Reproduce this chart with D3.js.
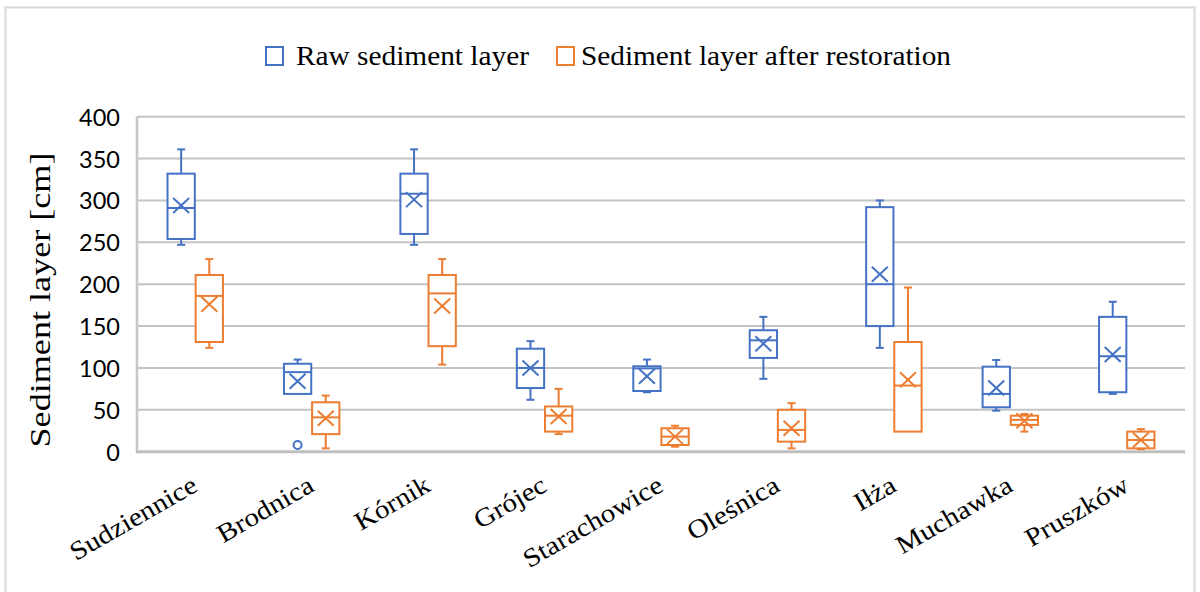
<!DOCTYPE html>
<html>
<head>
<meta charset="utf-8">
<script src="https://cdn.jsdelivr.net/npm/d3@7"></script>
<style>
  html, body { margin: 0; padding: 0; background: #fff; }
  svg { display: block; }
</style>
</head>
<body>
<svg id="chart" width="1200" height="592"></svg>
<script>
// ---- Data ----
const categories = ["Sudziennice", "Brodnica", "Kórnik", "Grójec", "Starachowice", "Oleśnica", "Iłża", "Muchawka", "Pruszków"];
const seriesNames = ["Raw sediment layer", "Sediment layer after restoration"];

const rawMin    = [247, 69, 247, 62, 71, 87, 124, 49, 69];
const rawQ1     = [254, 69, 260, 76, 72.5, 112, 150, 53, 71];
const rawMedian = [291, 95, 308, 100, 99.5, 133, 200, 69, 114];
const rawQ3     = [332, 105, 332, 123, 102, 145, 292, 101.5, 161];
const rawMax    = [361, 110, 361, 132, 110, 161, 300, 109.5, 179];
const rawMean   = [294, 84, 301, 100, 90, 129, 212, 76, 116];
const rawOutliers = [[], [8], [], [], [], [], [], [], []];

const resMin    = [124, 4, 104, 21, 6, 4, 24, 24, 3];
const resQ1     = [131, 21, 126, 24, 8, 12, 24, 32, 4];
const resMedian = [186, 41, 189, 43, 18, 26, 79, 38, 14];
const resQ3     = [211, 59, 211, 54, 28, 50, 131, 43, 24];
const resMax    = [230, 67, 230, 75, 31, 58, 196, 45, 27];
const resMean   = [176, 40, 174, 42, 18, 28, 86, 37, 14];
const resOutliers = [[], [], [], [], [], [], [], [], []];

const yTicks = [0, 50, 100, 150, 200, 250, 300, 350, 400];
const colors = ["#4472C4", "#ED7D31"];

// ---- Layout ----
const svg = d3.select("#chart");
const plot = { left: 137, right: 1185, top: 116.7, bottom: 451.7 };

const x = d3.scaleBand().domain(categories).range([plot.left, plot.right]).padding(0);
const y = d3.scaleLinear().domain([0, 400]).range([plot.bottom, plot.top]);
const sub = d3.scaleBand().domain([0, 1]).range([-28, 28]).paddingInner(0.03).paddingOuter(0.01);

// outer frame
svg.append("rect").attr("x", 5.5).attr("y", 7.5).attr("width", 1189).attr("height", 620)
  .attr("fill", "none").attr("stroke", "#d9d9d9").attr("stroke-width", 2);

// gridlines
svg.append("g").selectAll("line").data(yTicks.filter(d => d > 0)).join("line")
  .attr("x1", plot.left).attr("x2", plot.right)
  .attr("y1", d => y(d)).attr("y2", d => y(d))
  .attr("stroke", "#c4c4c4").attr("stroke-width", 2);

// axis lines
svg.append("line").attr("x1", plot.left).attr("x2", plot.left)
  .attr("y1", plot.top).attr("y2", plot.bottom + 1)
  .attr("stroke", "#c8c8c8").attr("stroke-width", 2.5);
svg.append("line").attr("x1", plot.left - 1).attr("x2", plot.right)
  .attr("y1", plot.bottom).attr("y2", plot.bottom)
  .attr("stroke", "#bfbfbf").attr("stroke-width", 3);

// y tick labels
const yAxis = d3.axisLeft(y).tickValues(yTicks).tickSize(0).tickPadding(0);
const gy = svg.append("g").attr("transform", `translate(120,0)`).call(yAxis);
gy.select(".domain").remove();
gy.selectAll("text")
  .attr("font-family", "Lato, 'Open Sans', sans-serif")
  .attr("font-size", 23.5).attr("fill", "#000").attr("dy", "0.36em");

// y title
svg.append("text")
  .attr("transform", "translate(50,300) rotate(-90)")
  .attr("text-anchor", "middle")
  .attr("font-family", "'Liberation Serif', serif").attr("font-size", 29).attr("fill", "#000")
  .attr("textLength", 295).attr("lengthAdjust", "spacingAndGlyphs")
  .text("Sediment layer [cm]");

// x labels
const xl = svg.append("g").selectAll("text").data(categories).join("text")
  .attr("transform", d => `translate(${x(d) + x.bandwidth() / 2 + 4},490) rotate(-30)`)
  .attr("text-anchor", "end")
  .attr("font-family", "'Liberation Serif', serif").attr("font-size", 26).attr("fill", "#000")
  .text(d => d);
xl.each(function () {
  const w = this.getComputedTextLength();
  d3.select(this).attr("textLength", w * 1.12).attr("lengthAdjust", "spacingAndGlyphs");
});

// legend
const legend = [
  { name: seriesNames[0], color: colors[0], sx: 266, tx: 296, tw: 233 },
  { name: seriesNames[1], color: colors[1], sx: 557, tx: 581, tw: 370 }
];
const lg = svg.append("g");
legend.forEach(l => {
  lg.append("rect").attr("x", l.sx).attr("y", 47).attr("width", 17).attr("height", 18)
    .attr("fill", "#fff").attr("stroke", l.color).attr("stroke-width", 2);
  lg.append("text").attr("x", l.tx).attr("y", 65)
    .attr("font-family", "'Liberation Serif', serif").attr("font-size", 26.5).attr("fill", "#000")
    .attr("textLength", l.tw).attr("lengthAdjust", "spacingAndGlyphs")
    .text(l.name);
});

// boxes
const series = [
  { min: rawMin, q1: rawQ1, med: rawMedian, q3: rawQ3, max: rawMax, mean: rawMean, out: rawOutliers },
  { min: resMin, q1: resQ1, med: resMedian, q3: resQ3, max: resMax, mean: resMean, out: resOutliers }
];

series.forEach((s, si) => {
  const g = svg.append("g").attr("stroke", colors[si]).attr("stroke-width", 2).attr("fill", "none");
  categories.forEach((c, i) => {
    const cx = x(c) + x.bandwidth() / 2 + sub(si) + sub.bandwidth() / 2;
    const bw = sub.bandwidth();
    const capW = 8;
    if (s.max[i] > s.q3[i]) {
      g.append("line").attr("x1", cx).attr("x2", cx).attr("y1", y(s.max[i])).attr("y2", y(s.q3[i]));
      g.append("line").attr("x1", cx - capW / 2).attr("x2", cx + capW / 2).attr("y1", y(s.max[i])).attr("y2", y(s.max[i]));
    }
    if (s.min[i] < s.q1[i]) {
      g.append("line").attr("x1", cx).attr("x2", cx).attr("y1", y(s.q1[i])).attr("y2", y(s.min[i]));
      g.append("line").attr("x1", cx - capW / 2).attr("x2", cx + capW / 2).attr("y1", y(s.min[i])).attr("y2", y(s.min[i]));
    }
    g.append("rect").attr("x", cx - bw / 2).attr("y", y(s.q3[i]))
      .attr("width", bw).attr("height", y(s.q1[i]) - y(s.q3[i])).attr("fill", "#fff");
    g.append("line").attr("x1", cx - bw / 2).attr("x2", cx + bw / 2)
      .attr("y1", y(s.med[i])).attr("y2", y(s.med[i]));
    const my = y(s.mean[i]), m = 8, mv = 7.5;
    g.append("line").attr("x1", cx - m).attr("x2", cx + m).attr("y1", my - mv).attr("y2", my + mv);
    g.append("line").attr("x1", cx - m).attr("x2", cx + m).attr("y1", my + mv).attr("y2", my - mv);
    s.out[i].forEach(v => {
      g.append("circle").attr("cx", cx).attr("cy", y(v)).attr("r", 4).attr("fill", "#fff");
    });
  });
});
</script>
</body>
</html>
